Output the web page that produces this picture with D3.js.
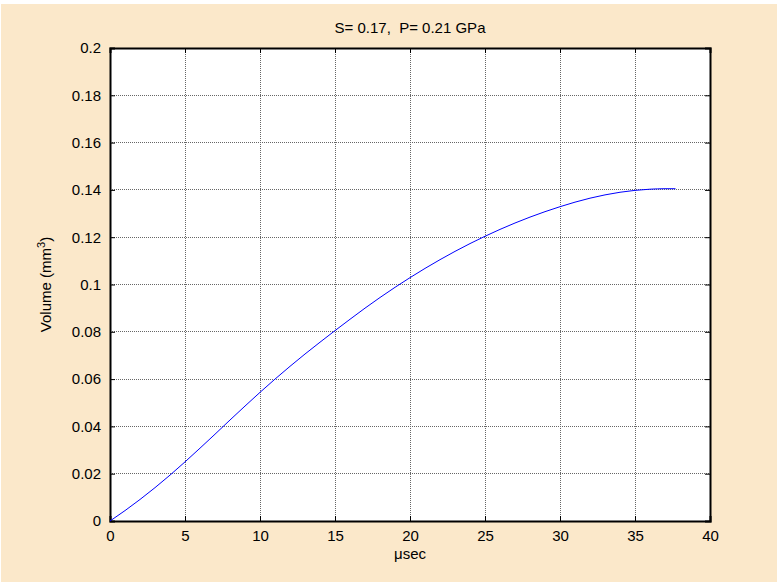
<!DOCTYPE html>
<html>
<head>
<meta charset="utf-8">
<script src="https://cdn.jsdelivr.net/npm/d3@7"></script>
<style>
  body { margin: 0; background: #ffffff; }
  text { font-family: "Liberation Sans", Arial, sans-serif; }
</style>
</head>
<body>
<div id="container"></div>
<script>
let w = 777;
let h = 583;

// data
let timeUs = [0, 1, 2, 3, 4, 5, 6, 7, 8, 9, 10, 11, 12, 13, 14, 15, 16, 17, 18, 19, 20,
              22, 24, 25, 26, 28, 30, 32, 34, 35, 36, 37, 37.7];
let volume = [0, 0.0044, 0.0091, 0.0141, 0.0194, 0.025, 0.0308, 0.0367, 0.0427, 0.0486, 0.0544,
              0.06, 0.0654, 0.0706, 0.0756, 0.0805, 0.0853, 0.09, 0.0945, 0.0988, 0.1029,
              0.1105, 0.1173, 0.1204, 0.1233, 0.1285, 0.1329, 0.1365, 0.1390, 0.1398, 0.1403, 0.1405, 0.1405];
let xTicks = [0, 5, 10, 15, 20, 25, 30, 35, 40];
let yTicks = [0, 0.02, 0.04, 0.06, 0.08, 0.1, 0.12, 0.14, 0.16, 0.18, 0.2];
let yTickLabels = ["0", "0.02", "0.04", "0.06", "0.08", "0.1", "0.12", "0.14", "0.16", "0.18", "0.2"];

let plotL = 110, plotR = 710, plotT = 48, plotB = 521;

let viz = d3.select("#container").append("svg")
    .attr("width", w)
    .attr("height", h);

// figure background
viz.append("rect")
    .attr("x", 1).attr("y", 4)
    .attr("width", w - 1).attr("height", h - 5)
    .attr("fill", "#fbe8ca");

let xScale = d3.scaleLinear().domain([0, 40]).range([plotL, plotR]);
let yScale = d3.scaleLinear().domain([0, 0.2]).range([plotB, plotT]);

viz.append("rect")
    .attr("x", plotL).attr("y", plotT)
    .attr("width", plotR - plotL).attr("height", plotB - plotT)
    .attr("fill", "white");

// grid
viz.selectAll(".vgrid").data(xTicks.slice(1, -1)).enter()
  .append("line")
    .attr("class", "vgrid")
    .attr("x1", d => xScale(d)).attr("x2", d => xScale(d))
    .attr("y1", plotT).attr("y2", plotB)
    .attr("stroke", "#666").attr("stroke-width", 1)
    .attr("stroke-dasharray", "1,1")
    .attr("shape-rendering", "crispEdges");
viz.selectAll(".hgrid").data(yTicks.slice(1, -1)).enter()
  .append("line")
    .attr("class", "hgrid")
    .attr("x1", plotL).attr("x2", plotR)
    .attr("y1", d => yScale(d)).attr("y2", d => yScale(d))
    .attr("stroke", "#666").attr("stroke-width", 1)
    .attr("stroke-dasharray", "1,1")
    .attr("shape-rendering", "crispEdges");

// axes with inward ticks
let xAxisB = d3.axisBottom(xScale).tickValues(xTicks).tickSize(-5).tickPadding(9).tickFormat(d3.format("d"));
let xAxisT = d3.axisTop(xScale).tickValues(xTicks).tickSize(-5).tickFormat("");
let yAxisL = d3.axisLeft(yScale).tickValues(yTicks).tickSize(-5).tickPadding(9).tickFormat((d, i) => yTickLabels[i]);
let yAxisR = d3.axisRight(yScale).tickValues(yTicks).tickSize(-5).tickFormat("");

function styleAxis(g) {
  g.select(".domain").attr("stroke", "#000").attr("stroke-width", 2);
  g.selectAll(".tick line").attr("stroke", "#000");
  g.selectAll("text").attr("font-size", 15).attr("fill", "#000")
    .attr("font-family", "'Liberation Sans', Arial, sans-serif");
}

viz.append("g").attr("transform", "translate(0," + plotB + ")").call(xAxisB).call(styleAxis);
viz.append("g").attr("transform", "translate(0," + plotT + ")").call(xAxisT).call(styleAxis);
viz.append("g").attr("transform", "translate(" + plotL + ",0)").call(yAxisL).call(styleAxis);
viz.append("g").attr("transform", "translate(" + plotR + ",0)").call(yAxisR).call(styleAxis);

// curve
let lineMaker = d3.line()
    .x((d, i) => xScale(timeUs[i]))
    .y(d => yScale(d))
    .curve(d3.curveMonotoneX);

viz.append("path")
    .datum(volume)
    .attr("d", lineMaker)
    .attr("fill", "none")
    .attr("stroke", "#0000ff")
    .attr("stroke-width", 1);

// labels
viz.append("text")
    .attr("x", (plotL + plotR) / 2).attr("y", 33)
    .attr("text-anchor", "middle")
    .attr("font-size", 15)
    .style("white-space", "pre")
    .text("S= 0.17,  P= 0.21 GPa");

viz.append("text")
    .attr("x", (plotL + plotR) / 2).attr("y", 559)
    .attr("text-anchor", "middle")
    .attr("font-size", 15)
    .text("\u03bcsec");

let ylab = viz.append("text")
    .attr("transform", "translate(51," + ((plotT + plotB) / 2) + ") rotate(-90)")
    .attr("text-anchor", "middle")
    .attr("font-size", 15);
ylab.append("tspan").text("Volume (mm");
ylab.append("tspan").attr("font-size", 11).attr("dy", -6).text("3");
ylab.append("tspan").attr("dy", 6).text(")");
</script>
</body>
</html>
